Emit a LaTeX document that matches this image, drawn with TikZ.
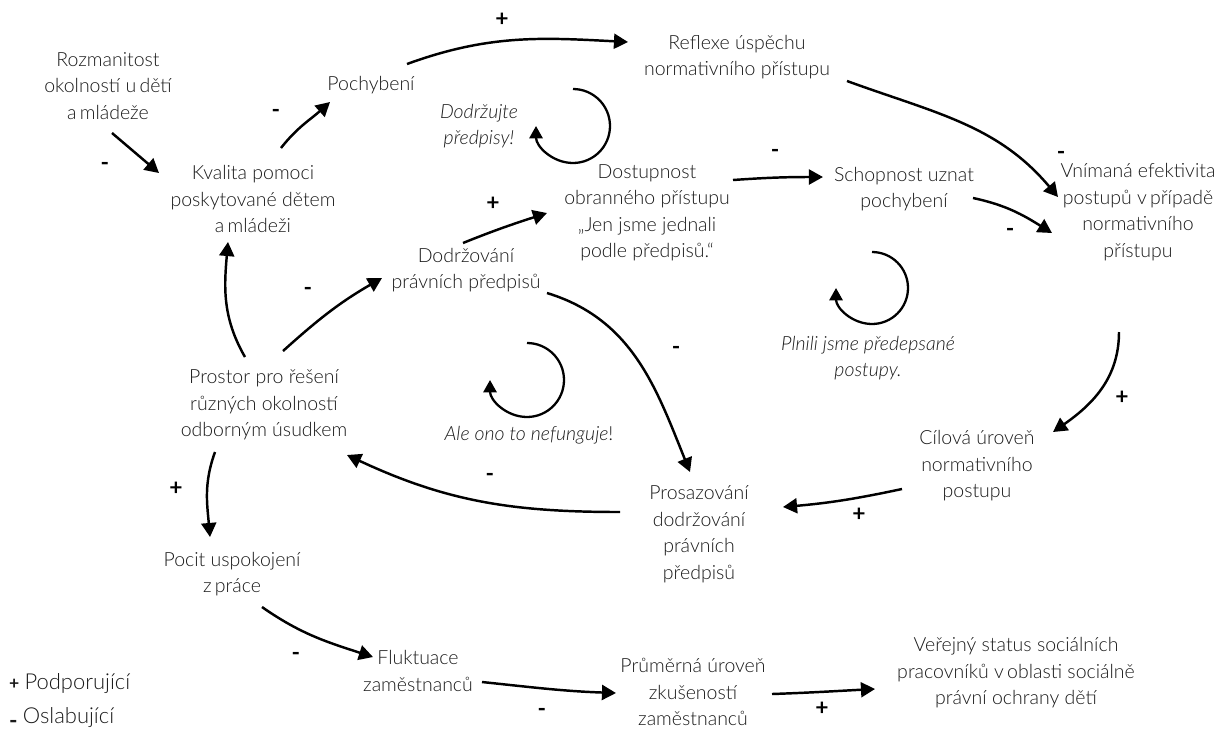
\documentclass[tikz,border=0pt]{standalone}
\usepackage{fontspec}
\IfFontExistsTF{Lato Light}{%
  \IfFontExistsTF{Lato Light Italic}{%
    \setmainfont{Lato Light}[ItalicFont={Lato Light Italic},BoldFont={Lato}]%
  }{\setmainfont{Lato}}%
}{\setmainfont{Lato}}
\newfontfamily\sgnfont{Lato}
\usetikzlibrary{arrows.meta}
\definecolor{txt}{HTML}{1A1A1A}
\begin{document}
\begin{tikzpicture}[x=0.02cm,y=-0.02cm,
  lbl/.style={align=center,font=\fontsize{11.1}{15.1}\selectfont,text=txt,inner sep=1pt},
  ital/.style={lbl,font=\fontsize{11.1}{15.1}\selectfont\itshape},
  sgn/.style={font=\fontsize{13}{14}\sgnfont\bfseries,inner sep=0pt},
  arr/.style={line width=1.4pt,-{Triangle[length=8pt,width=8.5pt]}},
  loopy/.style={line width=1.3pt,-{Triangle[length=7pt,width=7.5pt]}}]
\useasboundingbox (0,0) rectangle (1220,735);

% nodes
\node[lbl] (rozm) at (108,86) {Rozmanitost\\okolností u\,dětí\\a\,mládeže};
\node[lbl] (poch) at (371,85) {Pochybení};
\node[lbl] (kval) at (253,199) {Kvalita pomoci\\poskytované dětem\\a\,mládeži};
\node[lbl] (refl) at (737,57) {Reflexe úspěchu\\normativního přístupu};
\node[ital] (dodrz) at (479,126) {Dodržujte\\předpisy!};
\node[lbl] (dost) at (647,213) {Dostupnost\\obranného přístupu\\„Jen jsme jednali\\podle předpisů.“};
\node[lbl] (schop) at (904,189) {Schopnost uznat\\pochybení};
\node[lbl] (vnim) at (1138,212) {Vnímaná efektivita\\postupů v\,případě\\normativního\\přístupu};
\node[lbl] (dodr) at (466,270) {Dodržování\\právních předpisů};
\node[ital] (plnili) at (868,358) {Plnili jsme předepsané\\postupy.};
\node[lbl] (prostor) at (264,405) {Prostor pro řešení\\různých okolností\\odborným úsudkem};
\node[lbl] (ale) at (529,435) {\textit{Ale ono to nefunguje}!};
\node[lbl] (cil) at (977,466) {Cílová úroveň\\normativního\\postupu};
\node[lbl] (prosaz) at (699,534) {Prosazování\\dodržování\\právních\\předpisů};
\node[lbl] (pocit) at (232,574) {Pocit uspokojení\\z\,práce};
\node[lbl] (fluk) at (418,671) {Fluktuace\\zaměstnanců};
\node[lbl] (prum) at (693,692) {Průměrná úroveň\\zkušeností\\zaměstnanců};
\node[lbl] (verej) at (1016,673) {Veřejný status sociálních\\pracovníků v\,oblasti sociálně\\právní ochrany dětí};

% legend
\node[lbl,anchor=west,font=\fontsize{12.5}{14}\selectfont] (leg1) at (7,684) {{\fontsize{10}{10}\sgnfont\bfseries +}\hspace{3pt}Podporující};
\node[lbl,anchor=west,font=\fontsize{12.5}{14}\selectfont] (leg2) at (7,718) {\raisebox{-3pt}{\fontsize{13}{13}\sgnfont\bfseries -}\hspace{3pt}Oslabující};

% connectors
\draw[arr] ([shift={(4,47)}]rozm.center) -- ([shift={(-94,-26)}]kval.center);
\draw[arr] ([shift={(28,-51)}]kval.center) to[out=52,in=222] ([shift={(-41,17)}]poch.center);
\draw[arr] ([shift={(36,-21)}]poch.center) to[out=20,in=177] ([shift={(-109,-15)}]refl.center);
\draw[arr] ([shift={(110,24)}]refl.center) to[out=-20,in=130] ([shift={(-80,-15)}]vnim.center);
\draw[arr] ([shift={(86,-33)}]dost.center) to[out=4,in=180] ([shift={(-81,-12)}]schop.center);
\draw[arr] ([shift={(69,9)}]schop.center) to[out=-12,in=148] ([shift={(-86,21)}]vnim.center);
\draw[arr] ([shift={(-19,120)}]vnim.center) to[out=-90,in=35] ([shift={(76,-34)}]cil.center);
\draw[arr] ([shift={(-75,23)}]cil.center) to[out=192,in=5] ([shift={(84,-27)}]prosaz.center);
\draw[arr] ([shift={(-79,-22)}]prosaz.center) to[out=180,in=-25] ([shift={(83,50)}]prostor.center);
\draw[arr] ([shift={(81,23)}]dodr.center) to[out=-17,in=112] ([shift={(-9,-62)}]prosaz.center);
\draw[arr] ([shift={(-3,-27)}]dodr.center) to[out=22,in=198] ([shift={(-100,0)}]dost.center);
\draw[arr] ([shift={(-19,-48)}]prostor.center) to[out=120,in=-95] ([shift={(-25,43)}]kval.center);
\draw[arr] ([shift={(19,-54)}]prostor.center) to[out=42,in=210] ([shift={(-84,8)}]dodr.center);
\draw[arr] ([shift={(-49,47)}]prostor.center) to[out=-110,in=95] ([shift={(-22,-37)}]pocit.center);
\draw[arr] ([shift={(30,33)}]pocit.center) to[out=-35,in=162] ([shift={(-45,-14)}]fluk.center);
\draw[arr] ([shift={(64,11)}]fluk.center) to[out=-6,in=178] ([shift={(-77,1)}]prum.center);
\draw[arr] ([shift={(79,2)}]prum.center) to[out=2,in=183] ([shift={(-141,16)}]verej.center);

% loops
\coordinate (l1) at (573,126);
\coordinate (l2) at (872,288);
\coordinate (l3) at (527,380);
\draw[loopy] ([shift={(0,-37)}]l1) arc[start angle=90,end angle=-180,radius=0.74cm];
\draw[loopy] ([shift={(0,-36)}]l2) arc[start angle=90,end angle=-180,radius=0.72cm];
\draw[loopy] ([shift={(0,-37)}]l3) arc[start angle=90,end angle=-180,radius=0.74cm];

% signs
\node[sgn] (s1) at (502,20) {+};
\node[sgn] (s2) at (105,166) {-};
\node[sgn] (s3) at (276,113) {-};
\node[sgn] (s4) at (775,153) {-};
\node[sgn] (s5) at (1061,155) {-};
\node[sgn] (s6) at (1010,232) {-};
\node[sgn] (s7) at (493,204) {+};
\node[sgn] (s8) at (308,291) {-};
\node[sgn] (s9) at (676,350) {-};
\node[sgn] (s10) at (1122,398) {+};
\node[sgn] (s11) at (859,515) {+};
\node[sgn] (s12) at (490,477) {-};
\node[sgn] (s13) at (176,489) {+};
\node[sgn] (s14) at (296,656) {-};
\node[sgn] (s15) at (542,712) {-};
\node[sgn] (s16) at (822,709) {+};
\end{tikzpicture}
\end{document}
